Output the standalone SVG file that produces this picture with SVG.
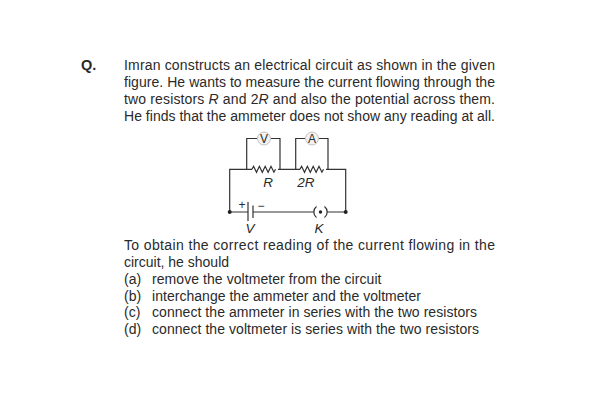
<svg xmlns="http://www.w3.org/2000/svg" width="600" height="400" viewBox="0 0 600 400">
<style>
text{font-family:"Liberation Sans",Arial,sans-serif;font-size:14px;fill:#2a2a2a}
.i{font-style:italic}
.l{font-size:13.5px;font-style:italic}
.w{fill:none;stroke:#333;stroke-width:1.2}
.m{fill:#f2f2f2;stroke:#c4c4c4;stroke-width:1}
.d{fill:#222}
</style>
<rect width="600" height="400" fill="#fff"/>
<g id="question">
<text x="81" y="70" style="font-weight:bold;font-size:14.5px">Q.</text>
<text x="124" y="70" textLength="371">Imran constructs an electrical circuit as shown in the given</text>
<text x="124" y="87" textLength="371">figure. He wants to measure the current flowing through the</text>
<text x="124" y="104" textLength="371">two resistors <tspan class="i">R</tspan> and 2<tspan class="i">R</tspan> and also the potential across them.</text>
<text x="124" y="121" textLength="371">He finds that the ammeter does not show any reading at all.</text>
</g>
<g id="connectors">
<path class="w" d="M229.7 212V169.3H252M278 169.3H300M326 169.3H345.7V212"/>
<path class="w" d="M246.7 169.3V138.5H257.5M270.5 138.5H280V169.3M295.7 169.3V138.5H305.5M318.5 138.5H328V169.3"/>
<path class="w" d="M252 169.3l1.6-3 2.9 6 2.9-6 2.9 6 2.9-6 2.9 6 2.9-6 2.9 6 1.6-3M300 169.3l1.6-3 2.9 6 2.9-6 2.9 6 2.9-6 2.9 6 2.9-6 2.9 6 1.6-3"/>
<path class="w" d="M229.7 212H248M253 212H314M327 212H345.7"/>
<path class="w" d="M248 202V221M253 205.5V218"/>
<path class="w" d="M316.5 206.5a7 7 0 0 0 0 11M324.5 206.5a7 7 0 0 1 0 11"/>
</g>
<g id="voltmeter"><circle class="m" cx="264" cy="138.5" r="6.5"/><text x="264" y="143" text-anchor="middle" style="font-size:12px">V</text></g>
<g id="ammeter"><circle class="m" cx="312" cy="138.5" r="6.5"/><text x="312" y="143" text-anchor="middle" style="font-size:12px">A</text></g>
<g id="terminals"><circle class="d" cx="229.7" cy="212" r="2"/><circle class="d" cx="345.7" cy="212" r="2"/><circle class="d" cx="320.5" cy="212" r="1.7"/></g>
<g id="labels">
<text class="l" x="268" y="187" text-anchor="middle">R</text>
<text class="l" x="306" y="187" text-anchor="middle">2R</text>
<text x="242" y="209" text-anchor="middle" style="font-size:12px">+</text>
<text x="261" y="210" text-anchor="middle" style="font-size:12px">−</text>
<text class="l" x="250" y="232.5" text-anchor="middle">V</text>
<text class="l" x="319" y="232.5" text-anchor="middle">K</text>
</g>
<g id="answers">
<text x="124" y="250" textLength="371">To obtain the correct reading of the current flowing in the</text>
<text x="124" y="267">circuit, he should</text>
<text x="124" y="283.5">(a)</text><text x="152" y="283.5" textLength="229.5">remove the voltmeter from the circuit</text>
<text x="124" y="300.5">(b)</text><text x="152" y="300.5" textLength="269">interchange the ammeter and the voltmeter</text>
<text x="124" y="317">(c)</text><text x="152" y="317" textLength="325">connect the ammeter in series with the two resistors</text>
<text x="124" y="334">(d)</text><text x="152" y="334" textLength="327">connect the voltmeter is series with the two resistors</text>
</g>
</svg>
